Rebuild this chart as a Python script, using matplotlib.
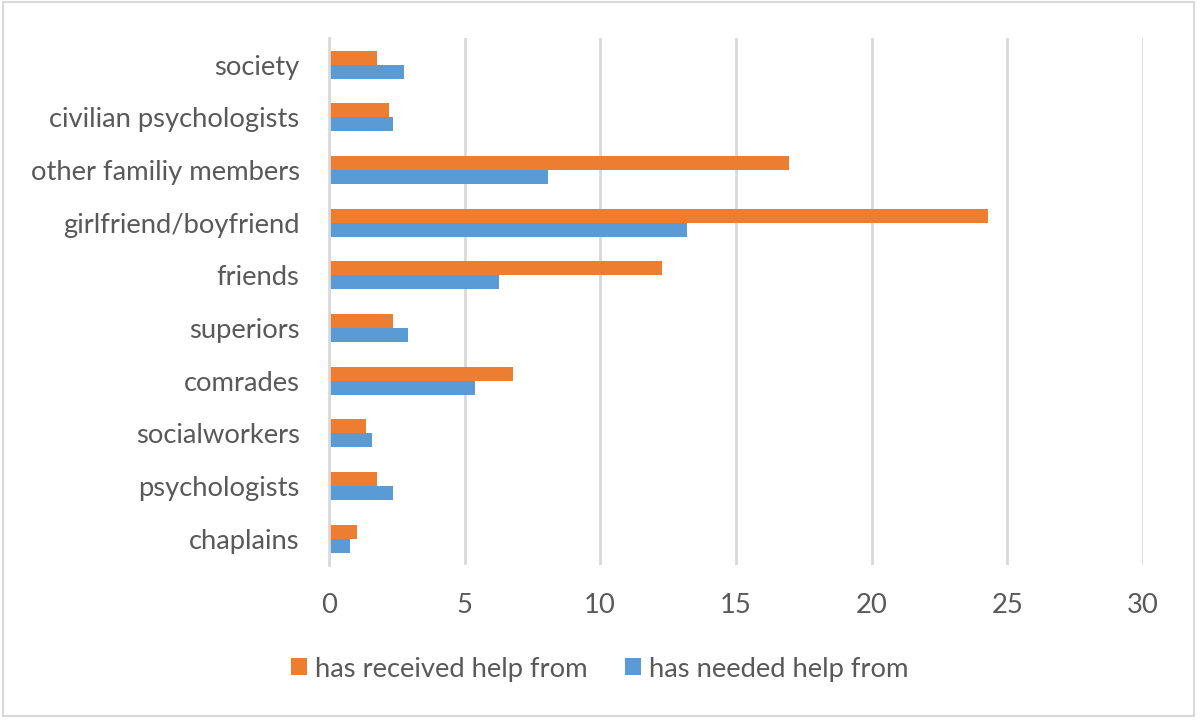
import numpy as np
import matplotlib.pyplot as plt
from matplotlib.patches import Rectangle

categories = ['chaplains', 'psychologists', 'socialworkers', 'comrades', 'superiors',
              'friends', 'girlfriend/boyfriend', 'other familiy members',
              'civilian psychologists', 'society']
received = [1.03, 1.79, 1.37, 6.80, 2.36, 12.29, 24.28, 16.97, 2.20, 1.79]
needed = [0.77, 2.37, 1.58, 5.39, 2.93, 6.26, 13.18, 8.09, 2.37, 2.76]
xticks = [0, 5, 10, 15, 20, 25, 30]

plt.rcParams['font.family'] = ['Lato', 'DejaVu Sans']
text_grey = '#595959'
grid_grey = '#d9d9d9'
fs = 19.7

fig = plt.figure(figsize=(12, 7.22), dpi=100)
ax = fig.add_axes([0.274, 0.2175, 0.6785, 0.7295])

y = np.arange(len(categories))
h = 0.266
ax.barh(y + h / 2, received, height=h, color='#ed7d31', label='has received help from')
ax.barh(y - h / 2, needed, height=h, color='#5b9bd5', label='has needed help from')

ax.set_xlim(0, 30)
ax.set_ylim(-0.5, len(categories) - 0.5)
ax.set_xticks(xticks)
ax.set_yticks(y)
ax.set_yticklabels(categories)
ax.xaxis.grid(True, color=grid_grey, linewidth=2)
ax.set_axisbelow(True)
for s in ['top', 'right', 'bottom']:
    ax.spines[s].set_visible(False)
ax.spines['left'].set_color(grid_grey)
ax.spines['left'].set_linewidth(2)
ax.tick_params(axis='both', length=0, labelsize=fs, colors=text_grey)
ax.tick_params(axis='x', pad=20)
ax.tick_params(axis='y', pad=21)

leg = fig.legend(loc='center', bbox_to_anchor=(0.5, 1 - 669 / 722), ncol=2, frameon=False,
                 fontsize=fs, handlelength=0.58, handleheight=0.58, handletextpad=0.3,
                 columnspacing=1.35)
for t in leg.get_texts():
    t.set_color(text_grey)

fig.patches.append(Rectangle((3 / 1200, 1 - 716 / 722), 1191 / 1200, 714 / 722,
                             transform=fig.transFigure, fill=False,
                             edgecolor=grid_grey, linewidth=1.5))

fig.savefig('out.png', dpi=100)
